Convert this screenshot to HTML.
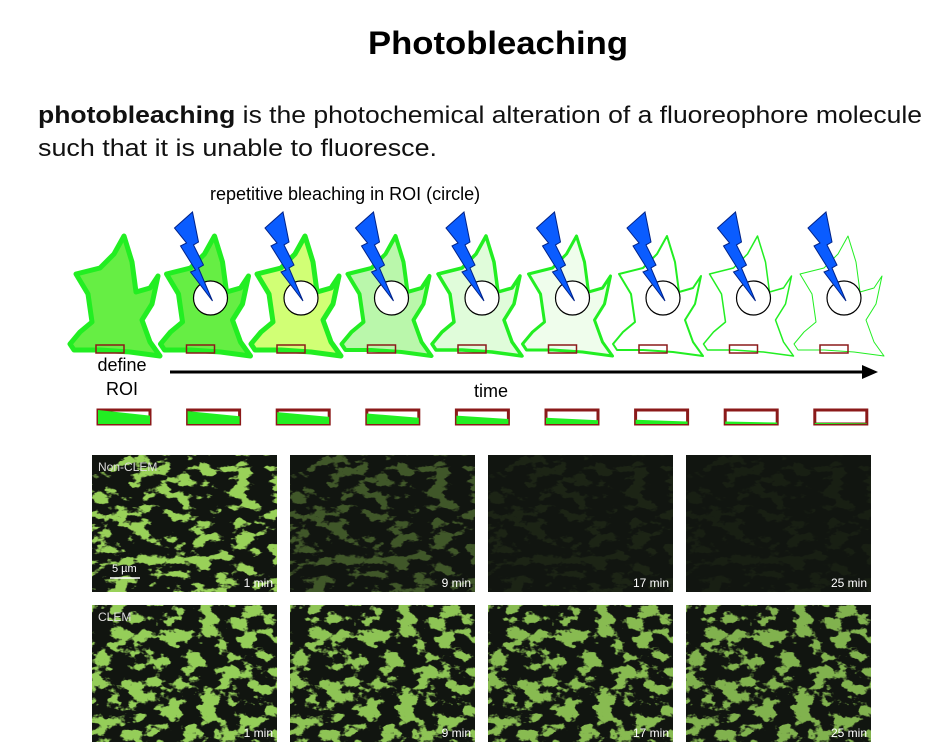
<!DOCTYPE html>
<html><head><meta charset="utf-8"><style>
body{margin:0;background:#fff;width:926px;height:752px;overflow:hidden;font-family:"Liberation Sans",sans-serif}
svg{display:block}
</style></head><body>
<svg id="s" width="926" height="752" xmlns="http://www.w3.org/2000/svg">
<defs>
<filter id="tex" x="0" y="0" width="100%" height="100%">
<feTurbulence type="fractalNoise" baseFrequency="0.05 0.09" numOctaves="4" seed="4"/>
<feColorMatrix type="matrix" values="0 0 0 0 0.32  0 0 0 0 0.64  0 0 0 0 0.1  0 0 0 12 -6.3"/>
</filter>
<filter id="tex2" x="0" y="0" width="100%" height="100%">
<feTurbulence type="fractalNoise" baseFrequency="0.055 0.08" numOctaves="4" seed="11"/>
<feColorMatrix type="matrix" values="0 0 0 0 0.3  0 0 0 0 0.62  0 0 0 0 0.1  0 0 0 12 -6.0"/>
</filter>
</defs>
<text x="368" y="54" textLength="260" lengthAdjust="spacingAndGlyphs" font-size="32" font-weight="bold" fill="#000">Photobleaching</text>
<text x="38" y="123" textLength="884" lengthAdjust="spacingAndGlyphs" font-size="24" fill="#111"><tspan font-weight="bold">photobleaching</tspan> is the photochemical alteration of a fluoreophore molecule</text>
<text x="38" y="156" textLength="399" lengthAdjust="spacingAndGlyphs" font-size="24" fill="#111">such that it is unable to fluoresce.</text>
<text x="210" y="200" font-size="18" fill="#000">repetitive bleaching in ROI (circle)</text>
<g id="cells"></g>
<text x="122" y="371" text-anchor="middle" font-size="18">define</text>
<text x="122" y="395" text-anchor="middle" font-size="18">ROI</text>
<line x1="170" y1="372" x2="866" y2="372" stroke="#000" stroke-width="3"/>
<polygon points="878,372 862,365 862,379" fill="#000"/>
<text x="491" y="397" text-anchor="middle" font-size="18">time</text>
<g id="rois"></g>
<g id="micro"></g>
</svg>
<script>
const fillOpacity=[1,1,0.9,0.45,0.2,0.1,0,0,0];
const strokeW=[5,5,5,4,3.5,3,2,1.5,1];
const roiFill=[1,0.92,0.85,0.75,0.6,0.45,0.3,0.18,0.08];
const nonClemBright=[1,0.35,0.08,0.05];
const clemBright=[1,0.95,0.9,0.85];
const times=['1 min','9 min','17 min','25 min'];
const NS='http://www.w3.org/2000/svg';
function mk(t,a,p){const e=document.createElementNS(NS,t);for(const k in a)e.setAttribute(k,a[k]);(p||document.getElementById('s')).appendChild(e);return e;}
const shape=[[0,112],[10,100],[22,90],[18,62],[6,42],[30,36],[44,22],[54,4],[62,30],[66,60],[80,56],[88,44],[82,72],[72,88],[80,110],[90,124],[60,120],[30,118],[4,118]];
const cells=document.getElementById('cells'),rois=document.getElementById('rois');
for(let i=0;i<9;i++){
 const ox=70+i*90.5, oy=232;
 const g=mk('g',{},cells);
 
 
 const fo=fillOpacity[i];
 mk('polygon',{points:shape.map(p=>(ox+p[0])+','+(oy+p[1])).join(' '),fill:i==2?'#ccff66':'#66ee44','fill-opacity':fo,stroke:'#22ee22','stroke-width':strokeW[i],'stroke-linejoin':'round'},g);
 mk('rect',{x:ox+26,y:345,width:28,height:8,fill:'none',stroke:'#8b1a1a','stroke-width':1.5},g);
 if(i>0){
  const cx=ox+50,cy=298;
  mk('circle',{cx:cx,cy:cy,r:17,fill:'#fff',stroke:'#000','stroke-width':1.2},g);
  const b=[[-36,-70],[-18,-86],[-12,-56],[-17,-53],[-7,-33],[-12,-30],[2,3],[-20,-26],[-15,-28],[-30,-52],[-24,-55]];
  const bolt=mk('polygon',{points:b.map(p=>(cx+p[0])+','+(cy+p[1])).join(' '),fill:'#0a5cff',stroke:'#002288','stroke-width':1},g);
  
  
 }
 const rx=98+i*89.6, ry=410;
 const r=mk('g',{},rois);
 
 
 mk('rect',{x:rx,y:ry,width:52,height:14,fill:'#fff',stroke:'#8b1a1a','stroke-width':3},r);
 const h=14*roiFill[i];
 mk('polygon',{points:`${rx},${ry+14-h} ${rx+52},${ry+14-h*0.6} ${rx+52},${ry+14} ${rx},${ry+14}`,fill:'#22ee22'},r);
}
const micro=document.getElementById('micro');
const xs=[92,290,488,686], ys=[455,605];
for(let row=0;row<2;row++)for(let c=0;c<4;c++){
 const x=xs[c],y=ys[row],w=185,h=137;
 const g=mk('g',{},micro);
 
 
 mk('rect',{x:x,y:y,width:w,height:h,fill:'#111510'},g);
 const br=row?clemBright[c]:nonClemBright[c];
 const svg=mk('svg',{x:x,y:y,width:w,height:h,opacity:br},g);
 mk('rect',{x:0,y:0,width:w,height:h,filter:row?'url(#tex2)':'url(#tex)'},svg);
 const t=mk('text',{x:x+w-4,y:y+h-5,'text-anchor':'end','font-size':12,fill:'#fff'},g);
 t.textContent=times[c];
 if(c==0){const l=mk('text',{x:x+6,y:y+16,'font-size':12,fill:'#ddd'},g);l.textContent=row?'CLEM':'Non-CLEM';}
}
mk('line',{x1:110,y1:578,x2:140,y2:578,stroke:'#fff','stroke-width':1.5});
const sb=mk('text',{x:112,y:572,'font-size':11,fill:'#fff'});sb.textContent='5 µm';
</script>
</body></html>
